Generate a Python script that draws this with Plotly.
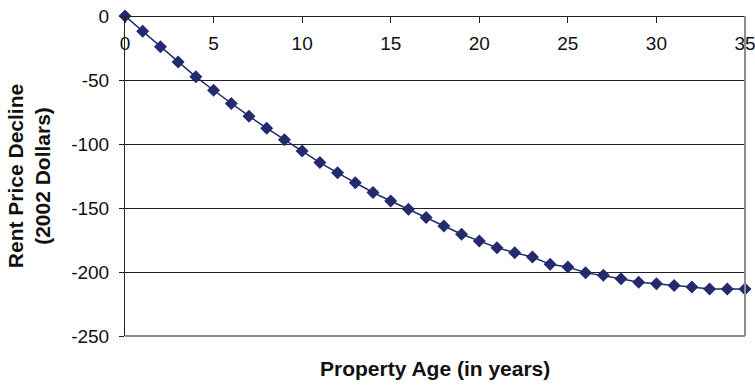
import plotly.graph_objects as go

# Property age (years) and the estimated rent price decline (2002 dollars)
ages = list(range(0, 36))
decline = [0, -12, -24, -36, -47.5, -58, -68.3, -78.3, -87.6, -96.6,
           -105.5, -114.5, -122.5, -130.3, -137.9, -144.5, -151, -157.5,
           -164.1, -170.5, -175.7, -181, -184.9, -188.3, -194, -196.1,
           -200.5, -202.6, -205.2, -208, -209.1, -210.6, -211.7, -213.3,
           -213.3, -213.3]

x_ticks = [0, 5, 10, 15, 20, 25, 30, 35]
y_ticks = [0, -50, -100, -150, -200, -250]

navy = "#232a6e"
font_family = "Liberation Sans, Arial, sans-serif"

fig = go.Figure()
fig.add_trace(go.Scatter(
    x=ages, y=decline, mode="lines+markers",
    line=dict(color=navy, width=1.5),
    marker=dict(symbol="diamond", size=10, color=navy),
    cliponaxis=False, showlegend=False,
))

fig.update_layout(
    width=755, height=385,
    margin=dict(l=125, r=10, t=16, b=49),
    paper_bgcolor="white", plot_bgcolor="white",
    font=dict(family=font_family, size=19, color="#111"),
    xaxis=dict(
        range=[0, 35], tickvals=x_ticks, ticktext=[str(v) for v in x_ticks],
        side="bottom", anchor="free", position=1, automargin=False,
        showline=True, linecolor="#222", linewidth=1,
        ticks="outside", ticklen=6, tickcolor="#222",
        ticklabelstandoff=4, ticklabeloverflow="allow",
        showgrid=False, zeroline=False,
        tickfont=dict(size=19),
    ),
    yaxis=dict(
        range=[-250, 0], tickvals=y_ticks, ticktext=[str(v) for v in y_ticks],
        domain=[0, 1], automargin=False,
        showline=True, linecolor="#222", linewidth=1,
        ticks="outside", ticklen=5, tickcolor="#222",
        ticklabelstandoff=6,
        showgrid=True, gridcolor="#222", gridwidth=1,
        zeroline=False,
        tickfont=dict(size=19),
        title=dict(text="<b>Rent Price Decline<br>(2002 Dollars)</b>",
                   font=dict(size=21), standoff=14),
    ),
    shapes=[
        dict(type="line", xref="x domain", yref="y domain",
             x0=1, x1=1, y0=0, y1=1, line=dict(color="#8c8c8c", width=2)),
        dict(type="line", xref="x domain", yref="y domain",
             x0=0, x1=1, y0=0, y1=0, line=dict(color="#8c8c8c", width=2)),
    ],
    annotations=[
        dict(text="<b>Property Age (in years)</b>", xref="paper", yref="paper",
             x=0.5, y=-0.06, xanchor="center", yanchor="top",
             showarrow=False, font=dict(size=21)),
    ],
)

fig.write_html("out.html")
